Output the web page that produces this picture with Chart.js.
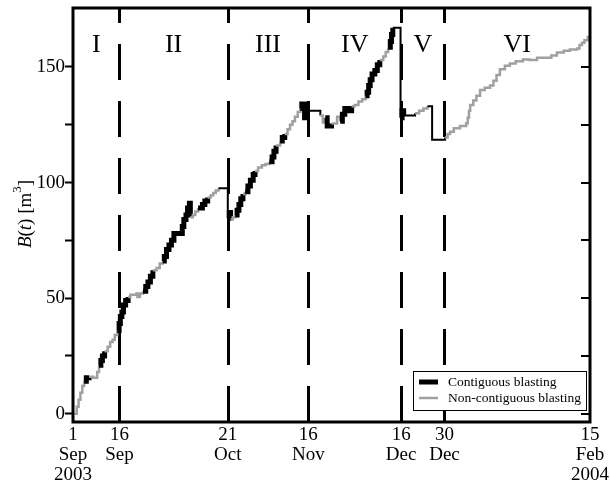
<!DOCTYPE html>
<html>
<head>
<meta charset="utf-8">
<script src="https://cdn.jsdelivr.net/npm/chart.js@4.4.0/dist/chart.umd.min.js"></script>
<style>
  html, body { margin: 0; padding: 0; background: #fff; }
  canvas { display: block; }
</style>
</head>
<body>
<canvas id="blastChart" width="610" height="484"></canvas>
<script>
// time in days counted from 1 Sep 2003
const days = [
    0.5, 1.2, 1.8, 2.4, 3.0, 3.6, 4.3, 5.2, 6.5, 7.8, 8.4, 9.0, 9.5, 10.2, 11.2, 12.0, 12.8, 13.5, 14.3, 14.9, 15.3, 15.8, 16.3, 17.0, 17.8,
    18.5, 20.5, 20.8, 21.6, 22.6, 23.5, 24.2, 25.0, 25.8, 27.0, 28.0, 29.0, 29.5, 30.2, 31.0, 31.8, 32.6, 35.3, 35.8, 36.5, 37.0, 37.6, 37.9, 38.7, 39.5, 40.4, 41.8, 42.6, 43.5, 44.5, 45.3, 46.1, 47.0, 50.0,
    50.5, 50.9, 51.6, 52.4, 53.0, 53.6, 54.2, 54.9, 55.6, 56.5, 57.3, 58.2, 58.8, 59.8, 61.0, 62.2, 63.4, 64.3, 64.9, 65.6, 66.9, 67.6, 68.4, 69.3, 70.1, 70.9, 71.7, 72.6, 73.4, 73.9, 74.8, 75.6,
    79.9, 80.7, 81.5, 82.1, 83.5, 85.3, 86.3, 87.0, 87.8, 89.0, 90.0, 91.0, 92.2, 93.4, 94.5, 95.0, 95.5, 96.0, 96.6, 97.5, 98.3, 99.1, 100.2, 101.0, 101.8, 102.5, 102.9, 103.3, 105.8,
    106.3, 106.8, 110.5, 111.8, 113.2, 114.5, 116.0, 120.2,
    121.0, 121.8, 123.0, 125.0, 127.0, 127.5, 127.9, 128.3, 129.3, 130.3, 131.5, 133.0, 134.7, 135.8, 136.8, 137.9, 139.5, 141.1, 143.0, 145.3, 147.5, 149.9, 153.1, 154.5, 156.3, 158.5, 160.5, 162.8, 163.6, 164.4, 165.2, 166.3, 167.0
];

// blasted volume B(t) in m3
const volume = [
    0, 3, 6, 9, 12, 14, 15.5, 16, 15.5, 18, 21, 23, 25, 27, 29, 31, 32, 34, 36, 39, 42, 44, 47, 49, 50.5,
    51.5, 52, 50.5, 52, 53, 55, 57, 59.5, 62, 63, 65, 66, 68, 71, 73, 75, 78, 81, 84, 86, 89, 91, 85, 86, 87.5, 89, 90.5, 92, 93.5, 94.5, 95.5, 96.5, 97.5, 84.5,
    87, 84, 85, 86, 88, 90.5, 93, 95, 96, 98.5, 101, 103.5, 105, 106.5, 107.5, 108, 109, 111, 113.5, 116, 118, 119.5, 121, 123, 125, 126.5, 128.5, 130.5, 132, 134, 128, 131,
    129, 126, 128, 124.5, 125.5, 128.5, 126.5, 129.5, 132, 131, 133, 133.5, 135, 136, 137.5, 139, 142, 144.5, 147, 148.5, 151, 153, 154.5, 156.5, 158.5, 161, 164, 167, 128,
    131, 129, 130, 131, 132, 133, 118.5, 119.5,
    121, 122, 123.5, 124.5, 125.6, 128, 131, 133.5, 135.5, 137.5, 140, 141, 142, 144, 146.5, 149, 150.5, 151.5, 152.5, 153.2, 153, 154, 154, 155, 156.2, 157, 157.6, 158, 159.5, 160.5, 161.6, 163, 163
];

// kind of step ending at each point: c = contiguous, n = non-contiguous, x = no blasting
const blastKind = [
    'n','n','n','n','n','n','c','c','n','n','n','c','c','c','n','n','n','n','n','c','c','c','c','c','c',
    'n','n','n','n','n','c','c','c','c','n','n','n','c','c','c','c','c','c','c','c','c','c','c','n','n','n','c','c','c','n','n','n','n','x',
    'c','c','n','n','c','c','c','c','n','c','c','c','c','n','n','n','n','c','c','c','n','c','c','n','n','n','n','n','n','c','c','c',
    'x','n','n','c','c','n','n','c','c','c','c','n','n','n','n','c','c','c','c','c','c','c','n','n','n','c','c','c','x',
    'c','c','x','n','n','n','x','x',
    'n','n','n','n','n','n','n','n','n','n','n','n','n','n','n','n','n','n','n','n','n','n','n','n','n','n','n','n','n','n','n','n','n'
];

const dateTicks = [0, 15, 50, 76, 106, 120, 167];
const dateLabels = [['1', 'Sep', '2003'], ['16', 'Sep'], ['21', 'Oct'], ['16', 'Nov'], ['16', 'Dec'], ['30', 'Dec'], ['15', 'Feb', '2004']];
const periodBounds = [0, 15, 50, 76, 106, 120, 167];
const periodNames = ['I', 'II', 'III', 'IV', 'V', 'VI'];
const volumeTicks = [0, 25, 50, 75, 100, 125, 150];
const legendNames = ['Contiguous blasting', 'Non-contiguous blasting'];

const SERIF = '"Liberation Serif", "DejaVu Serif", serif';
const GRAY = '#a0a0a0';

// Dashed period lines, numerals, legend, frame and axis title
const decorations = {
    id: 'decorations',
    beforeDatasetsDraw(chart) {
        const {ctx, chartArea: a, scales: {x}} = chart;
        ctx.save();
        ctx.strokeStyle = '#000';
        ctx.lineWidth = 3;
        ctx.setLineDash([36, 21]);
        periodBounds.slice(1, -1).forEach(d => {
            const px = Math.round(x.getPixelForValue(d)) + 0.5;
            ctx.beginPath();
            ctx.moveTo(px, a.bottom);
            ctx.lineTo(px, a.top);
            ctx.stroke();
        });
        ctx.restore();
    },
    afterDatasetsDraw(chart) {
        const {ctx, chartArea: a, scales: {x, y}} = chart;
        ctx.save();
        // period numerals
        ctx.fillStyle = '#000';
        ctx.font = '26px ' + SERIF;
        ctx.textAlign = 'center';
        ctx.textBaseline = 'middle';
        periodNames.forEach((name, i) => {
            const mid = (periodBounds[i] + periodBounds[i + 1]) / 2;
            ctx.fillText(name, x.getPixelForValue(mid), y.getPixelForValue(159.5));
        });

        // legend box
        const w = 173, h = 39;
        const left = a.right - 4 - w, top = a.bottom - 12 - h;
        ctx.fillStyle = '#fff';
        ctx.fillRect(left, top, w, h);
        ctx.strokeStyle = '#000';
        ctx.lineWidth = 1;
        ctx.strokeRect(left + 0.5, top + 0.5, w, h);
        ctx.font = '13.5px ' + SERIF;
        ctx.textAlign = 'left';
        legendNames.forEach((name, i) => {
            const ly = top + 11 + i * 16;
            ctx.beginPath();
            ctx.strokeStyle = i === 0 ? '#000' : GRAY;
            ctx.lineWidth = i === 0 ? 5 : 2.5;
            ctx.moveTo(left + 6, ly);
            ctx.lineTo(left + 25, ly);
            ctx.stroke();
            ctx.fillStyle = '#000';
            ctx.fillText(name, left + 35, ly);
        });
        ctx.restore();
    },
    afterDraw(chart) {
        const {ctx, chartArea: a, scales: {y}} = chart;
        ctx.save();
        // frame
        ctx.strokeStyle = '#000';
        ctx.lineWidth = 3;
        ctx.strokeRect(a.left, a.top, a.width, a.height);
        // inward ticks on right axis
        ctx.lineWidth = 2;
        volumeTicks.forEach(v => {
            const py = Math.round(y.getPixelForValue(v));
            ctx.beginPath();
            ctx.moveTo(a.right, py);
            ctx.lineTo(a.right - 9, py);
            ctx.stroke();
        });

        // y axis title B(t) [m^3]
        const parts = [
            {t: 'B', f: 'italic 19px ' + SERIF, dy: 0},
            {t: '(', f: '19px ' + SERIF, dy: 0},
            {t: 't', f: 'italic 19px ' + SERIF, dy: 0},
            {t: ') [m', f: '19px ' + SERIF, dy: 0},
            {t: '3', f: '13px ' + SERIF, dy: -8},
            {t: ']', f: '19px ' + SERIF, dy: 0}
        ];
        let total = 0;
        parts.forEach(p => { ctx.font = p.f; p.w = ctx.measureText(p.t).width; total += p.w; });
        ctx.translate(26, 214);
        ctx.rotate(-Math.PI / 2);
        ctx.fillStyle = '#000';
        ctx.textBaseline = 'middle';
        ctx.textAlign = 'left';
        let cx = -total / 2;
        parts.forEach(p => {
            ctx.font = p.f;
            ctx.fillText(p.t, cx, p.dy);
            cx += p.w;
        });
        ctx.restore();
    }
};

new Chart(document.getElementById('blastChart').getContext('2d'), {
    type: 'line',
    data: {
        datasets: [{
            label: 'B(t)',
            data: days.map((d, i) => ({x: d, y: volume[i]})),
            stepped: 'before',
            pointRadius: 0,
            fill: false,
            borderColor: GRAY,
            borderWidth: 2.5,
            segment: {
                borderColor: c => blastKind[c.p1DataIndex] === 'n' ? GRAY : '#000',
                borderWidth: c => blastKind[c.p1DataIndex] === 'c' ? 5 : (blastKind[c.p1DataIndex] === 'x' ? 2 : 2.5)
            }
        }]
    },
    options: {
        responsive: false,
        animation: false,
        layout: {
            padding: {left: 0, right: 20, top: 8, bottom: 0}
        },
        scales: {
            x: {
                type: 'linear',
                min: 0,
                max: 167,
                afterBuildTicks: scale => { scale.ticks = dateTicks.map(v => ({value: v})); },
                afterFit: scale => {
                    scale.height = 62;
                    scale.paddingLeft = 0;
                    scale.paddingRight = 0;
                },
                grid: {display: false},
                border: {display: false},
                ticks: {
                    autoSkip: false,
                    maxRotation: 0,
                    padding: -5,
                    color: '#000',
                    font: {family: SERIF, size: 19, lineHeight: 1.05},
                    callback: (value, index) => dateLabels[index]
                }
            },
            y: {
                min: -3.6,
                max: 175.5,
                afterBuildTicks: scale => { scale.ticks = volumeTicks.map(v => ({value: v})); },
                afterFit: scale => {
                    scale.width = 73;
                    scale.paddingTop = 0;
                    scale.paddingBottom = 0;
                },
                grid: {
                    drawOnChartArea: false,
                    drawTicks: true,
                    tickLength: 8,
                    tickColor: '#000',
                    tickWidth: 2
                },
                border: {display: false},
                ticks: {
                    padding: 0,
                    color: '#000',
                    font: {family: SERIF, size: 19},
                    callback: value => value % 50 === 0 ? String(value) : ''
                }
            }
        },
        plugins: {
            legend: {display: false},
            tooltip: {enabled: false}
        }
    },
    plugins: [decorations]
});
</script>
</body>
</html>
